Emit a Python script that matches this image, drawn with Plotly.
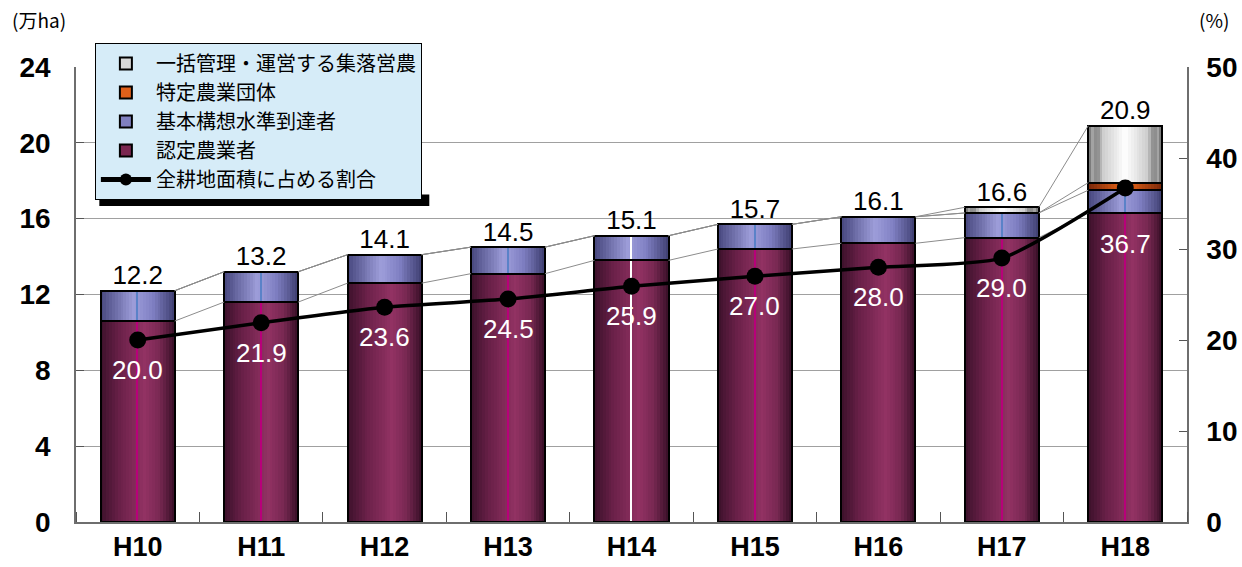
import plotly.graph_objects as go

# ---- data -------------------------------------------------------------
years = ["H10", "H11", "H12", "H13", "H14", "H15", "H16", "H17", "H18"]
nintei = [10.6, 11.6, 12.6, 13.1, 13.8, 14.4, 14.7, 15.0, 16.3]      # 認定農業者
kihon = [1.6, 1.6, 1.5, 1.4, 1.3, 1.3, 1.4, 1.3, 1.2]                # 基本構想水準到達者
tokutei = [0.0, 0.0, 0.0, 0.0, 0.0, 0.0, 0.0, 0.0, 0.4]              # 特定農業団体
ikkatsu = [0.0, 0.0, 0.0, 0.0, 0.0, 0.0, 0.0, 0.3, 3.0]              # 一括管理・運営する集落営農
totals = [12.2, 13.2, 14.1, 14.5, 15.1, 15.7, 16.1, 16.6, 20.9]
share = [20.0, 21.9, 23.6, 24.5, 25.9, 27.0, 28.0, 29.0, 36.7]       # 全耕地面積に占める割合 (%)

left_ticks = [0, 4, 8, 12, 16, 20, 24]
right_ticks = [0, 10, 20, 30, 40, 50]

# ---- styling ----------------------------------------------------------
BAR_W = 0.6
N_STRIPS = 26
NUM_FONT = "Liberation Sans Narrow, Arial Narrow, Liberation Sans, Arial"
JP_FONT = "Noto Sans CJK JP"

series = [
    dict(name="認定農業者", vals=nintei, rank=4, swatch="#7a2650",
         stops=[(0, (60, 17, 42)), (0.25, (105, 32, 72)), (0.6, (146, 50, 99)),
                (0.8, (120, 40, 82)), (1, (55, 15, 38))],
         center="#b8007a"),
    dict(name="基本構想水準到達者", vals=kihon, rank=3, swatch="#8080c0",
         stops=[(0, (70, 70, 125)), (0.45, (158, 158, 218)), (0.7, (128, 128, 195)),
                (1, (62, 62, 112))],
         center="#5a82c8"),
    dict(name="特定農業団体", vals=tokutei, rank=2, swatch="#e0601a",
         stops=[(0, (120, 38, 10)), (0.5, (238, 104, 22)), (1, (120, 38, 10))],
         center=None),
    dict(name="一括管理・運営する集落営農", vals=ikkatsu, rank=1, swatch="#d8d8d8",
         stops=[(0, (105, 105, 105)), (0.07, (175, 175, 175)), (0.11, (125, 125, 125)),
                (0.2, (205, 205, 205)), (0.5, (255, 255, 255)), (0.8, (205, 205, 205)),
                (0.89, (125, 125, 125)), (0.93, (175, 175, 175)), (1, (105, 105, 105))],
         center=None),
]
# colour of the thin centre rule drawn in each column (None = not drawn)
center_rule = ["c", "c", None, "c", "#ffffff", "c", None, "c", "c"]
# vertical pixel offset of each percentage label below its marker
share_label_shift = [-30, -30, -30, -30, -30, -30, -30, -30, -56]


def grad(stops, t):
    for (t0, c0), (t1, c1) in zip(stops[:-1], stops[1:]):
        if t0 <= t <= t1:
            f = (t - t0) / (t1 - t0) if t1 > t0 else 0
            return "rgb(%d,%d,%d)" % tuple(round(a + (b - a) * f) for a, b in zip(c0, c1))
    return "rgb(%d,%d,%d)" % stops[-1][1]


xs = list(range(len(years)))
fig = go.Figure()

# cumulative boundaries for the stack
bases = []
run = [0.0] * len(years)
for s in series:
    bases.append(run[:])
    run = [r + v for r, v in zip(run, s["vals"])]
tops = [[b + v for b, v in zip(bs, s["vals"])] for bs, s in zip(bases, series)]

# thin grey series lines joining segment tops of neighbouring columns
for top in tops:
    lx, ly = [], []
    for i in range(len(years) - 1):
        lx += [xs[i] + BAR_W / 2, xs[i + 1] - BAR_W / 2, None]
        ly += [top[i], top[i + 1], None]
    fig.add_trace(go.Scatter(x=lx, y=ly, mode="lines", line=dict(color="#8c8c8c", width=1),
                             showlegend=False, hoverinfo="skip"))

# shaded columns: each segment painted as narrow vertical strips
sw = BAR_W / N_STRIPS
for s, base in zip(series, bases):
    for k in range(N_STRIPS):
        t = (k + 0.5) / N_STRIPS
        fig.add_trace(go.Bar(
            x=[x - BAR_W / 2 + (k + 0.5) * sw for x in xs], y=s["vals"], base=base,
            width=sw * 1.08, marker=dict(color=grad(s["stops"], t), line=dict(width=0)),
            showlegend=False, hoverinfo="skip"))
    if s["center"]:
        cols = [None if c is None else (s["center"] if c == "c" else c) for c in center_rule]
        fig.add_trace(go.Bar(
            x=xs, y=[v if c else None for v, c in zip(s["vals"], cols)], base=base,
            width=0.012, marker=dict(color=[c or "rgba(0,0,0,0)" for c in cols], line=dict(width=0)),
            showlegend=False, hoverinfo="skip"))

# black outlines of every segment
for s, base in zip(series, bases):
    fig.add_trace(go.Bar(
        x=xs, y=[v if v > 0 else None for v in s["vals"]], base=base, width=BAR_W,
        marker=dict(color="rgba(0,0,0,0)", line=dict(color="#000000", width=2)),
        showlegend=False, hoverinfo="skip"))

# legend entries for the stacked series
for s in series:
    fig.add_trace(go.Bar(
        x=[None], y=[None], name=s["name"], legendrank=s["rank"],
        marker=dict(color=s["swatch"], line=dict(color="#000000", width=1.5))))

# column totals
fig.add_trace(go.Scatter(
    x=xs, y=totals, mode="text", text=["%.1f" % v for v in totals],
    textposition="top center", textfont=dict(family=NUM_FONT, size=26, color="#000000"),
    showlegend=False, hoverinfo="skip"))

# share of total farmland (right axis)
fig.add_trace(go.Scatter(
    x=xs, y=share, yaxis="y2", mode="lines+markers", name="全耕地面積に占める割合",
    legendrank=5, line=dict(color="#000000", width=3.5, shape="spline", smoothing=0.6),
    marker=dict(symbol="circle", size=17, color="#000000"), hoverinfo="skip"))

annotations = [
    dict(text="(万ha)", xref="paper", yref="paper", x=-0.0594, y=1.105, xanchor="left",
         yanchor="middle", showarrow=False, font=dict(family=JP_FONT, size=19)),
    dict(text="(%)", xref="paper", yref="paper", x=1.009, y=1.105, xanchor="left",
         yanchor="middle", showarrow=False, font=dict(family=JP_FONT, size=19)),
]
for x, v, dy in zip(xs, share, share_label_shift):
    annotations.append(dict(
        x=x, y=v, xref="x", yref="y2", text="%.1f" % v, showarrow=False, yshift=dy,
        xanchor="center", yanchor="middle",
        font=dict(family=NUM_FONT, size=26, color="#ffffff")))

# legend drop shadow
fig.add_shape(type="rect", xref="paper", yref="paper", x0=0.021, x1=0.318, y0=0.6945, y1=0.72,
              fillcolor="#000000", line=dict(width=0), layer="below")

fig.update_layout(
    width=1242, height=567,
    margin=dict(l=76, r=55, t=67, b=45),
    paper_bgcolor="#ffffff", plot_bgcolor="#ffffff",
    barmode="overlay", bargap=0,
    font=dict(family=JP_FONT, color="#000000"),
    showlegend=True,
    legend=dict(x=0.017, y=1.053, xanchor="left", yanchor="top",
                bgcolor="#d6ecf8", bordercolor="#000000", borderwidth=1,
                font=dict(family=JP_FONT, size=20, color="#000000"),
                itemsizing="constant", itemwidth=50, tracegroupgap=0),
    xaxis=dict(range=[-0.5, len(years) - 0.5], tickvals=xs, ticktext=years,
               tickfont=dict(family="Liberation Sans, Arial", size=27, weight="bold"),
               ticks="", showgrid=False, zeroline=False, automargin=False,
               showline=True, linecolor="#6e6e6e", linewidth=1.5,
               minor=dict(tick0=0.5, dtick=1, ticks="inside", ticklen=10,
                          tickcolor="#555555", tickwidth=1, showgrid=False)),
    yaxis=dict(range=[0, 24], tickvals=left_ticks, automargin=False,
               tickfont=dict(family="Liberation Sans, Arial", size=28, weight="bold"),
               ticks="inside", ticklen=8, tickcolor="#555555", ticklabelstandoff=18,
               showgrid=True, gridcolor="#a0a0a0", gridwidth=1, zeroline=False,
               showline=True, linecolor="#6e6e6e", linewidth=1.5),
    yaxis2=dict(range=[0, 50], tickvals=right_ticks, overlaying="y", side="right",
                automargin=False,
                tickfont=dict(family="Liberation Sans, Arial", size=28, weight="bold"),
                ticks="inside", ticklen=8, tickcolor="#555555", ticklabelstandoff=12,
                showgrid=False, zeroline=False,
                showline=True, linecolor="#6e6e6e", linewidth=1.5),
    annotations=annotations,
)

fig.write_html("out.html")
